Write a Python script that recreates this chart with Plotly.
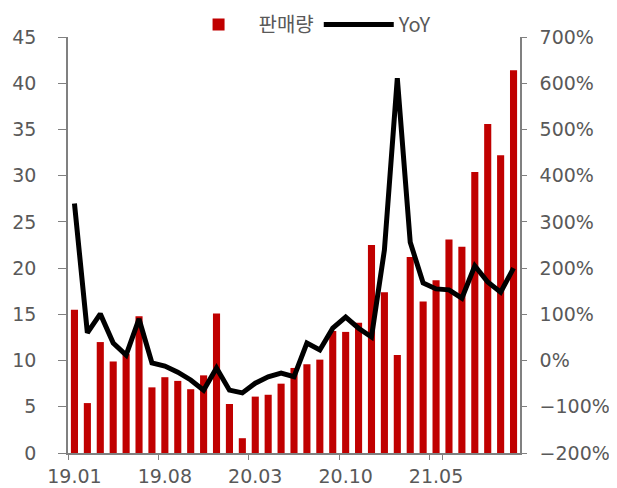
import plotly.graph_objects as go

months = [f"{y}.{m:02d}" for y in (19, 20, 21) for m in range(1, 13)][:35]
sales = [15.5, 5.4, 12.0, 9.9, 10.7, 14.8, 7.1, 8.2, 7.8, 6.9, 8.4, 15.1,
         5.3, 1.6, 6.1, 6.3, 7.5, 9.2, 9.6, 10.1, 13.2, 13.1, 14.1, 22.5,
         17.4, 10.6, 21.2, 16.4, 18.7, 23.1, 22.3, 30.4, 35.6, 32.2, 41.4]
yoy = [340, 60, 101, 38, 12, 90, -5, -12, -25, -42, -64, -16,
       -64, -70, -49, -35, -27, -35, 38, 23, 70, 94, 70, 51,
       239, 611, 256, 168, 155, 153, 135, 205, 170, 148, 200]
tick_labels = ["19.01", "19.08", "20.03", "20.10", "21.05"]

fig = go.Figure()
fig.add_trace(go.Bar(x=months, y=sales, name="판매량", marker_color="#C00000",
                     marker_line_width=0, width=0.55))
fig.add_trace(go.Scatter(x=months, y=yoy, name="YoY", mode="lines", yaxis="y2",
                         line=dict(color="black", width=5)))

axis_font = dict(family="DejaVu Sans, Verdana, sans-serif", size=19, color="#595959")
fig.update_layout(
    width=609, height=480,
    margin=dict(l=60, r=97, t=29, b=35, autoexpand=False),
    paper_bgcolor="white", plot_bgcolor="white",
    showlegend=True,
    legend=dict(orientation="h", x=0.53, xanchor="center", y=1.03, yanchor="middle",
                font=dict(family="Noto Sans CJK KR, Noto Sans, sans-serif", size=20, color="#595959"),
                itemwidth=70, traceorder="normal", bgcolor="rgba(0,0,0,0)"),
    bargap=0.45,
    xaxis=dict(type="category", tickmode="array", tickvals=tick_labels, ticktext=tick_labels,
               tickson="boundaries", ticks="outside", ticklen=5, tickcolor="#808080",
               showline=True, linecolor="#808080", linewidth=1.5, showgrid=False,
               tickfont=axis_font, tickangle=0, automargin=False, ticklabelstandoff=5,
               range=[-0.5, 34.5]),
    yaxis=dict(range=[0, 45], dtick=5, ticks="outside", ticklen=8, tickcolor="#808080",
               showline=True, linecolor="#808080", linewidth=1.5, showgrid=False,
               zeroline=False, tickfont=axis_font, automargin=False, ticklabelstandoff=18),
    yaxis2=dict(range=[-200, 700], dtick=100, ticksuffix="%", overlaying="y", side="right",
                ticks="outside", ticklen=5, tickcolor="#808080",
                showline=True, linecolor="#808080", linewidth=1.5, showgrid=False,
                zeroline=False, tickfont=axis_font, automargin=False, ticklabelstandoff=9),
)
fig.write_html("out.html")
